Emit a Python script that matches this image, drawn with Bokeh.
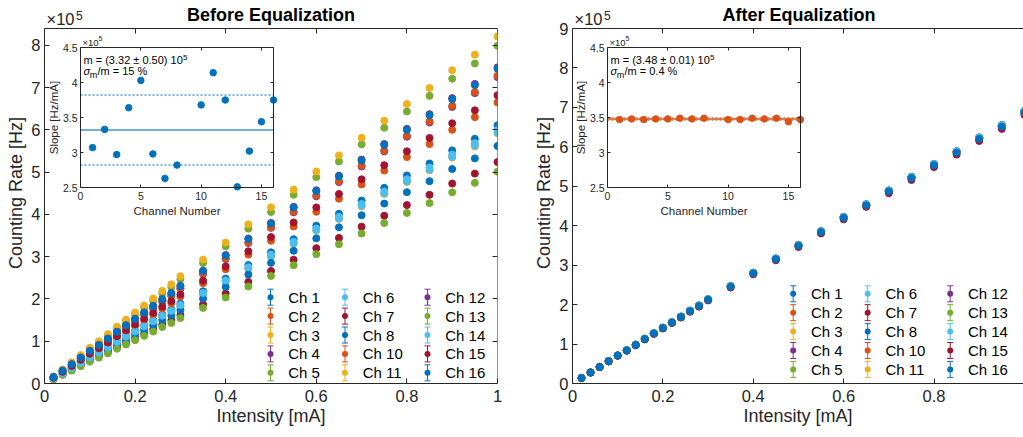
from bokeh.plotting import figure
from bokeh.layouts import row
from bokeh.models import (Range1d, LinearAxis, FixedTicker, CustomJSTickFormatter, Label,
                          Arrow, TeeHead, BoxAnnotation)
from bokeh.embed import file_html
from bokeh.resources import INLINE

# ---------------- data ----------------
intensity_mA = [0.02, 0.04, 0.06, 0.08, 0.10, 0.12, 0.14, 0.16, 0.18, 0.20, 0.22, 0.24, 0.26,
                0.28, 0.30, 0.35, 0.40, 0.45, 0.50, 0.55, 0.60, 0.65, 0.70, 0.75, 0.80, 0.85,
                0.90, 0.95, 1.00]
# common (equalized) counting-rate curve, units of 1e5 Hz
equalized_rate_1e5 = [0.14, 0.28, 0.42, 0.565, 0.71, 0.84, 0.98, 1.13, 1.27, 1.41, 1.55, 1.69,
                      1.84, 1.97, 2.13, 2.46, 2.80, 3.16, 3.50, 3.85, 4.21, 4.53, 4.88, 5.22,
                      5.55, 5.87, 6.22, 6.53, 6.89]
channels = [1, 2, 3, 4, 5, 6, 7, 8, 10, 11, 12, 13, 14, 15, 16]
# rate of each channel at 1 mA before equalization (1e5 Hz)
before_rate_at_1mA_1e5 = [6.11, 6.65, 5.92, 7.25, 7.99, 5.94, 5.24, 5.62, 7.28, 8.21, 7.48,
                          5.01, 6.00, 6.82, 7.45]
# inset slopes (1e5 Hz/mA)
slope_before_1e5 = [3.07, 3.33, 2.97, 3.64, 4.03, 2.98, 2.63, 2.82, 3.68, 4.14, 3.75, 2.51,
                    3.02, 3.44, 3.75]
slope_after_1e5 = [3.47, 3.48, 3.47, 3.48, 3.48, 3.49, 3.48, 3.49, 3.47, 3.47, 3.49, 3.48,
                   3.49, 3.44, 3.47]
before_mean, before_sigma = 3.32, 0.50
after_mean, after_sigma = 3.48, 0.014

palette = ["#0072BD", "#D95319", "#EDB120", "#7E2F8E", "#77AC30", "#4DBEEE", "#A2142F"]
colors = [palette[i % 7] for i in range(len(channels))]

x_ticks = [0, 0.2, 0.4, 0.6, 0.8, 1]
y_ticks_before = [0, 1, 2, 3, 4, 5, 6, 7, 8]
y_ticks_after = [0, 1, 2, 3, 4, 5, 6, 7, 8, 9]
inset_x_ticks = [0, 5, 10, 15]
inset_y_ticks = [2.5, 3, 3.5, 4, 4.5]
inset_xlim = (0, 16)
inset_ylim = (2.5, 4.5)

FONT = "Liberation Sans"
AXC = "#262626"

# ---------------- layout geometry (page pixels) ----------------
H = 437
FRAME_TOP = 2          # frame top (frame extended to hold the titles)
BOX_TOP = 28           # top edge of the plotted box
BOX_BOTTOM = 383
INSET_TOP, INSET_BOTTOM = 47, 187


def style_axis(ax, ticks, tick_in, font_size="1px", label=None, label_size=None,
               standoff=4, label_standoff=2, show_labels=True):
    ax.ticker = FixedTicker(ticks=ticks)
    ax.major_tick_in = tick_in
    ax.major_tick_out = 0
    ax.minor_tick_line_color = None
    ax.axis_line_color = AXC
    ax.major_tick_line_color = AXC
    ax.axis_line_width = 1
    ax.major_tick_line_width = 1
    if show_labels:
        ax.formatter = CustomJSTickFormatter(code="return tick.toString()")
        ax.major_label_text_font = FONT
        ax.major_label_text_font_size = font_size
        ax.major_label_text_color = AXC
        ax.major_label_standoff = standoff
    else:
        ax.formatter = CustomJSTickFormatter(code="return ''")
        ax.major_label_text_font_size = "1px"
        ax.major_label_standoff = 0
    if label is not None:
        ax.axis_label = label
        ax.axis_label_text_font = FONT
        ax.axis_label_text_font_size = label_size
        ax.axis_label_text_font_style = "normal"
        ax.axis_label_text_color = AXC
        ax.axis_label_standoff = label_standoff


def slabel(p, x, y, text, size, style="normal", align="left", color="#000000"):
    p.add_layout(Label(x=x, y=y, x_units="screen", y_units="screen", text=text,
                       text_font=FONT, text_font_size=size, text_font_style=style,
                       text_align=align, text_baseline="middle", text_color=color))


def make_main(canvas_x0, canvas_x1, frame_left, frame_right, xmax, ymax, yticks, rates,
              title, legend_x, legend_y, right_axis, inset_left, inset_right, slopes, mean,
              sigma, pt_color, solid_color, dot_color, text1, text2):
    # all horizontal positions are page pixels
    width = canvas_x1 - canvas_x0
    box_h = BOX_BOTTOM - BOX_TOP
    y_end = ymax * (BOX_BOTTOM - FRAME_TOP) / box_h
    p = figure(width=width, height=H, x_range=Range1d(0, xmax), y_range=Range1d(0, y_end),
               output_backend="svg", toolbar_location=None,
               min_border_left=frame_left - canvas_x0, min_border_right=canvas_x1 - frame_right,
               min_border_top=FRAME_TOP, min_border_bottom=H - BOX_BOTTOM)
    p.title = None
    p.grid.visible = False
    p.outline_line_color = None
    p.background_fill_color = "white"
    p.border_fill_color = "white"

    style_axis(p.xaxis[0], x_ticks, 5, "16.5px", "Intensity [mA]", "18px", standoff=6,
               label_standoff=1)
    style_axis(p.yaxis[0], yticks, 5, "16.5px", "Counting Rate [Hz]", "18px", standoff=4,
               label_standoff=2)
    p.yaxis[0].bounds = (0, ymax)
    top = LinearAxis(fixed_location=ymax)
    style_axis(top, x_ticks, 5, show_labels=False)
    p.add_layout(top, "above")
    if right_axis:
        r = LinearAxis(fixed_location=xmax, bounds=(0, ymax))
        style_axis(r, yticks, 5, show_labels=False)
        p.add_layout(r, "right")

    for ch_rates, c in zip(rates, colors):
        p.scatter(intensity_mA, ch_rates, size=7, color=c, marker="circle")

    # screen units: x from the frame's left edge, y upward from the frame's bottom
    box_w_full = 453.0
    slabel(p, box_w_full / 2, BOX_BOTTOM - 14.5, title, "18px", style="bold", align="center")
    slabel(p, 2, BOX_BOTTOM - 18.8, "\u00d710", "16.5px", color=AXC)
    slabel(p, 31.5, BOX_BOTTOM - 14.8, "5", "12px", color=AXC)

    # legend (three columns of error-bar markers)
    col_dx = [0, 74.5, 157]
    row_dy = 18.9
    for i, (ch, c) in enumerate(zip(channels, colors)):
        col, rw = divmod(i, 5)
        sx = legend_x - frame_left + col_dx[col]
        sy = BOX_BOTTOM - legend_y - rw * row_dy
        p.add_layout(Arrow(start=TeeHead(size=6, line_color=c, line_width=1),
                           end=TeeHead(size=6, line_color=c, line_width=1),
                           x_start=sx, y_start=sy - 8, x_end=sx, y_end=sy + 8,
                           start_units="screen", end_units="screen",
                           line_color=c, line_width=1))
        p.add_layout(BoxAnnotation(left=sx - 3, right=sx + 3, bottom=sy - 3, top=sy + 3,
                                   left_units="screen", right_units="screen",
                                   top_units="screen", bottom_units="screen",
                                   fill_color=c, fill_alpha=1, line_color=None,
                                   border_radius=3))
        slabel(p, sx + 17.7, sy, f"Ch {ch}", "15px", color="#000000")

    # ---------------- inset drawn on its own ranges ----------------
    x0, x1 = inset_xlim
    y0, y1 = inset_ylim
    kx = (x1 - x0) / (inset_right - inset_left)
    ky = (y1 - y0) / (INSET_BOTTOM - INSET_TOP)
    p.extra_x_ranges = {"ins_x": Range1d(x0 - (inset_left - frame_left) * kx,
                                         x1 + (frame_right - inset_right) * kx)}
    p.extra_y_ranges = {"ins_y": Range1d(y0 - (BOX_BOTTOM - INSET_BOTTOM) * ky,
                                         y1 + (INSET_TOP - FRAME_TOP) * ky)}
    rn = dict(x_range_name="ins_x", y_range_name="ins_y")

    ib = LinearAxis(fixed_location=y0, bounds=inset_xlim, **rn)
    style_axis(ib, inset_x_ticks, 3, "10.5px", "Channel Number", "11.5px", standoff=4,
               label_standoff=2)
    p.add_layout(ib, "below")
    il = LinearAxis(fixed_location=x0, bounds=inset_ylim, **rn)
    style_axis(il, inset_y_ticks, 3, "10.5px", "Slope [Hz/mA]", "11.5px", standoff=3,
               label_standoff=0)
    p.add_layout(il, "left")
    it = LinearAxis(fixed_location=y1, bounds=inset_xlim, **rn)
    style_axis(it, inset_x_ticks, 3, show_labels=False)
    p.add_layout(it, "above")
    ir = LinearAxis(fixed_location=x1, bounds=inset_ylim, **rn)
    style_axis(ir, inset_y_ticks, 3, show_labels=False)
    p.add_layout(ir, "right")

    p.line([x0, x1], [mean, mean], line_color=solid_color, line_width=1.5, **rn)
    for loc in (mean + sigma, mean - sigma):
        p.line([x0, x1], [loc, loc], line_color=dot_color, line_width=1.5, line_dash="2 2", **rn)
    p.scatter(channels, slopes, size=6.5, color=pt_color, marker="circle", **rn)

    bx = inset_left - frame_left
    by = BOX_BOTTOM - INSET_TOP
    slabel(p, bx + 2, by + 5.3, "\u00d710", "9.5px", color=AXC)
    slabel(p, bx + 18, by + 8.7, "5", "7px", color=AXC)
    slabel(p, bx + 3, by - 12.5, text1, "11px")
    slabel(p, bx + 102.5, by - 9.5, "5", "8px")
    slabel(p, bx + 3, by - 23.7, "\u03c3", "11px", style="italic")
    slabel(p, bx + 9.3, by - 27.9, "m", "9px")
    slabel(p, bx + 17, by - 23.7, text2, "11px")
    return p


scale_before = [r / equalized_rate_1e5[-1] for r in before_rate_at_1mA_1e5]
rates_before = [[v * g for v in equalized_rate_1e5] for g in scale_before]
rates_after = [[v * s / after_mean for v in equalized_rate_1e5] for s in slope_after_1e5]

p1 = make_main(0, 505, 44, 497, 1.0, 8.4, y_ticks_before, rates_before, "Before Equalization",
               270, 296.7, True, 80, 273, slope_before_1e5, before_mean, before_sigma,
               "#0072BD", "#3F95D8", "#4BA3E0", "m = (3.32 \u00b1 0.50) 10", "/m = 15 %")
p2 = make_main(505, 1023, 572, 1023, 0.998, 9.0, y_ticks_after, rates_after,
               "After Equalization", 792.7, 293.3, False, 607, 800, slope_after_1e5,
               after_mean, after_sigma, "#D95319", "#D95319", "#E07040",
               "m = (3.48 \u00b1 0.01) 10", "/m = 0.4 %")

layout = row(p1, p2)

open("out.html", "w").write(file_html(layout, INLINE, title="Equalization"))
